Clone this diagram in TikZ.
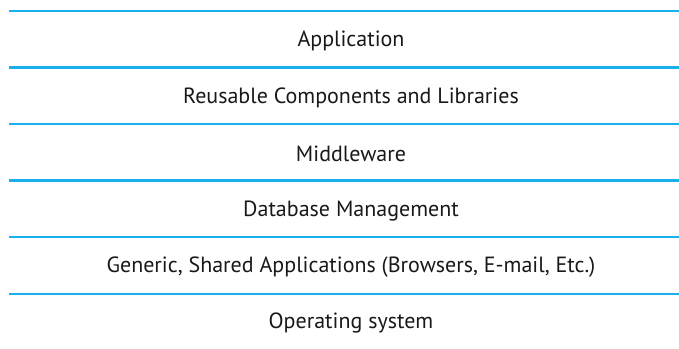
\documentclass[tikz,border=0pt]{standalone}
\usepackage{fontspec}
\setmainfont{PT Sans}
\definecolor{layerblue}{HTML}{1AB0EC}
\begin{document}
\begin{tikzpicture}[x=1pt,y=-1pt,
  sep/.style={draw=layerblue,line width=2.8pt},
  lbl/.style={font=\fontsize{22}{26}\selectfont,text=black!90,inner sep=0pt}]
\useasboundingbox (0,0) rectangle (679,348);
\foreach \i/\y in {1/11,2/67.5,3/124,4/180.5,5/237,6/294}{
  \coordinate (l\i a) at (9,\y);
  \coordinate (l\i b) at (679,\y);
  \draw[sep] (l\i a) -- (l\i b);
}
\node[lbl] (app) at (351,41) {Application};
\node[lbl] (reuse) at (351,98) {Reusable Components and Libraries};
\node[lbl] (mid) at (351,154) {Middleware};
\node[lbl] (db) at (351,211) {Database Management};
\node[lbl] (gen) at (351,267) {Generic, Shared Applications (Browsers, E-mail, Etc.)};
\node[lbl] (os) at (351,323) {Operating system};
\end{tikzpicture}
\end{document}
